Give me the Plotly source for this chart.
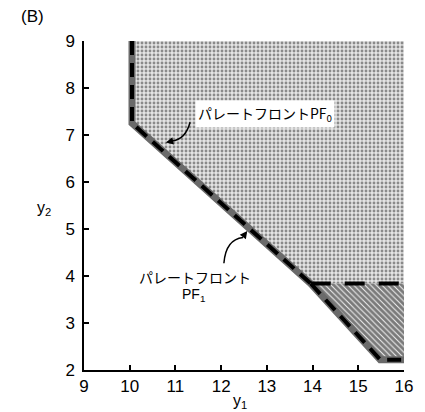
import plotly.graph_objects as go

# Pareto front PF0 (upper boundary of dotted region)
pf0_y1 = [10.05, 10.05, 13.96, 16.0]
pf0_y2 = [9.0, 7.25, 3.84, 3.84]
# Pareto front PF1 (continuation below PF0)
pf1_y1 = [13.96, 15.48, 16.0]
pf1_y2 = [3.84, 2.22, 2.22]

x_ticks = [9, 10, 11, 12, 13, 14, 15, 16]
y_ticks = [2, 3, 4, 5, 6, 7, 8, 9]

JP = "Noto Sans CJK JP, sans-serif"
NUM = "Liberation Sans, Arial, sans-serif"

fig = go.Figure()

# dotted region (dominated by PF0)
fig.add_trace(go.Scatter(
    x=pf0_y1 + [16.0, pf0_y1[0]], y=pf0_y2 + [9.0, 9.0],
    mode="none", fill="toself", fillcolor="#bdbdbd",
    fillpattern=dict(shape=".", fgcolor="#303030", bgcolor="#e4e4e4", size=4, solidity=0.4),
    hoverinfo="skip", showlegend=False))

# hatched region between PF0 and PF1
fig.add_trace(go.Scatter(
    x=pf1_y1 + [16.0, pf1_y1[0]], y=pf1_y2 + [pf0_y2[-1], pf1_y2[0]],
    mode="none", fill="toself", fillcolor="#555555",
    fillpattern=dict(shape="\\", fgcolor="#000000", bgcolor="#f4f4f4", size=4, solidity=0.75),
    hoverinfo="skip", showlegend=False))

# boundary bands
for xs, ys in [(pf0_y1[:3], pf0_y2[:3]), (pf1_y1, pf1_y2)]:
    fig.add_trace(go.Scatter(x=xs, y=ys, mode="lines",
                             line=dict(color="#6a6a6a", width=7),
                             hoverinfo="skip", showlegend=False))
    fig.add_trace(go.Scatter(x=xs, y=ys, mode="lines",
                             line=dict(color="black", width=4, dash="14px,8px"),
                             hoverinfo="skip", showlegend=False))
# horizontal part of PF0 (dashed only)
fig.add_trace(go.Scatter(x=pf0_y1[2:], y=pf0_y2[2:], mode="lines",
                         line=dict(color="black", width=4, dash="20px,14px"),
                         hoverinfo="skip", showlegend=False))

# curved arrow lines
fig.add_shape(type="path", xref="x", yref="y",
              path="M 11.32,7.27 Q 11.22,6.9 10.92,6.87",
              line=dict(color="black", width=1.5))
fig.add_shape(type="path", xref="x", yref="y",
              path="M 12.06,4.27 Q 12.1,4.78 12.48,4.82",
              line=dict(color="black", width=1.5))

annotations = [
    dict(x=10.79, y=6.84, ax=10.93, ay=6.87, xref="x", yref="y", axref="x", ayref="y",
         text="", showarrow=True, arrowhead=2, arrowsize=1, arrowwidth=1.5, arrowcolor="black"),
    dict(x=12.57, y=4.96, ax=12.46, ay=4.81, xref="x", yref="y", axref="x", ayref="y",
         text="", showarrow=True, arrowhead=2, arrowsize=1, arrowwidth=1.5, arrowcolor="black"),
    dict(x=12.96, y=7.44, xref="x", yref="y", text="パレートフロントPF<sub>0</sub>",
         showarrow=False, bgcolor="white", borderpad=2,
         font=dict(family=JP, size=14, color="black")),
    dict(x=11.43, y=3.97, xref="x", yref="y", text="パレートフロント",
         showarrow=False, font=dict(family=JP, size=14, color="black")),
    dict(x=11.40, y=3.59, xref="x", yref="y", text="PF<sub>1</sub>",
         showarrow=False, font=dict(family=NUM, size=14, color="black")),
    dict(x=-0.125, y=0.492, xref="paper", yref="paper", text="y<sub>2</sub>",
         xanchor="center", yanchor="middle",
         showarrow=False, font=dict(family=NUM, size=16, color="black")),
    dict(x=0.489, y=-0.095, xref="paper", yref="paper", text="y<sub>1</sub>",
         xanchor="center", yanchor="middle",
         showarrow=False, font=dict(family=NUM, size=16, color="black")),
    dict(x=-0.161, y=1.073, xref="paper", yref="paper", text="(B)",
         xanchor="center", yanchor="middle",
         showarrow=False, font=dict(family=NUM, size=17, color="black")),
]

axis_common = dict(showgrid=False, zeroline=False, showline=True, linecolor="black",
                   linewidth=1.5, ticks="inside", ticklen=5, tickwidth=1.5, tickcolor="black",
                   tickfont=dict(family=NUM, size=17, color="black"), mirror=False)

# page body has an 8px default margin, so the figure is sized to fit the 425x412 window
fig.update_layout(
    width=417, height=404,
    margin=dict(l=76, r=12, t=33, b=42),
    paper_bgcolor="white", plot_bgcolor="white",
    xaxis=dict(range=[9, 16], tickvals=x_ticks, ticktext=[str(v) for v in x_ticks], **axis_common),
    yaxis=dict(range=[2, 9], tickvals=y_ticks, ticktext=[str(v) for v in y_ticks],
               ticklabelstandoff=4, **axis_common),
    annotations=annotations,
    showlegend=False,
)

fig.write_html("out.html")
